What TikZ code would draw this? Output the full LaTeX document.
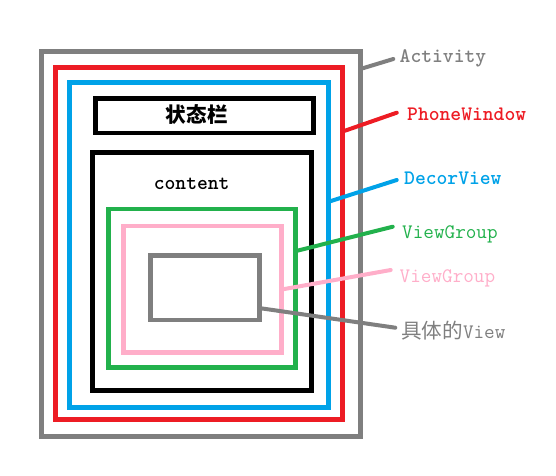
\documentclass[tikz,border=0pt]{standalone}
\usepackage{fontspec}
\newfontfamily\cjk{Noto Sans CJK SC}
\usetikzlibrary{positioning}
\definecolor{actgray}{HTML}{7F7F7F}
\definecolor{winred}{HTML}{ED1C24}
\definecolor{decorblue}{HTML}{00A2E8}
\definecolor{grpgreen}{HTML}{22B14C}
\definecolor{subpink}{HTML}{FFAEC9}

\begin{document}
\begin{tikzpicture}[
    x=1pt, y=-1pt,
    box/.style={
        draw=#1,
        line width=4.7pt,
        inner sep=0pt
    },
    leader/.style={draw=#1, line width=4pt, line cap=round},
    lbl/.style={
        anchor=base west,
        inner sep=0pt,
        text=#1,
        font=\fontsize{20.6}{24}\selectfont\ttfamily
    }
]
\useasboundingbox (0,0) rectangle (556,475);

\node[box=actgray, minimum width=319pt, minimum height=385pt] (act) at (200.8,243.8) {};
\node[box=winred, minimum width=287.4pt, minimum height=351.6pt] (win) at (199,243.5) {};
\node[box=decorblue, minimum width=259.4pt, minimum height=325pt] (decor) at (199,244.8) {};
\node[box=black, minimum width=218pt, minimum height=34.7pt] (bar) at (204.3,115.7) {};
\node[box=black, minimum width=219pt, minimum height=238pt] (content) at (201.8,271.3) {};
\node[box=grpgreen, minimum width=187pt, minimum height=158.3pt] (grp) at (202.2,288.2) {};
\node[box=subpink, minimum width=158pt, minimum height=126.3pt] (sub) at (202.3,289.2) {};
\node[box=actgray, minimum width=109.4pt, minimum height=64.3pt] (view) at (205,287.8) {};

\node[inner sep=0pt, font=\fontsize{20.6}{24}\selectfont\cjk\bfseries] (barlbl) at (196.7,115) {状态栏};
\node[lbl=black, anchor=base] (contentlbl) at (191.7,189.3) {\bfseries content};

\node[lbl=actgray] (actlbl) at (399.5,62.7) {\bfseries Activity};
\node[lbl=winred] (winlbl) at (407,120.7) {\bfseries PhoneWindow};
\node[lbl=decorblue] (decorlbl) at (404,184) {\bfseries DecorView};
\node[lbl=grpgreen] (grplbl) at (402,238.3) {ViewGroup};
\node[lbl=subpink] (sublbl) at (399.5,282.7) {ViewGroup};
\node[lbl=actgray] (viewlbl) at (401,338.3) {{\cjk 具体的}View};

\coordinate (actpin) at (362.7,68.3);
\coordinate (actend) at (393.3,59);
\coordinate (winpin) at (345,130.7);
\coordinate (winend) at (396.7,112.7);
\coordinate (decorpin) at (330,201.3);
\coordinate (decorend) at (396.7,180);
\coordinate (grppin) at (297.3,250.7);
\coordinate (grpend) at (392.7,226.7);
\coordinate (subpin) at (282.7,289.3);
\coordinate (subend) at (390.7,270);
\coordinate (viewpin) at (261,308.3);
\coordinate (viewend) at (395.3,327.7);

\draw[leader=actgray] (actpin) -- (actend);
\draw[leader=winred] (winpin) -- (winend);
\draw[leader=decorblue] (decorpin) -- (decorend);
\draw[leader=grpgreen] (grppin) -- (grpend);
\draw[leader=subpink] (subpin) -- (subend);
\draw[leader=actgray] (viewpin) -- (viewend);
\end{tikzpicture}
\end{document}
